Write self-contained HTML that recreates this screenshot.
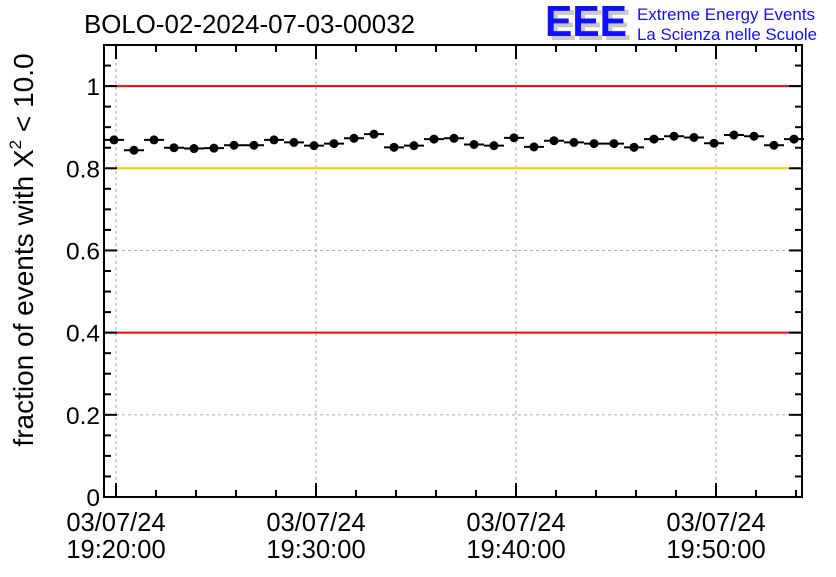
<!DOCTYPE html>
<html><head><meta charset="utf-8"><style>
body{margin:0;background:#fff;}
svg text{font-family:"Liberation Sans",sans-serif;}
</style></head><body>
<svg id="c" width="836" height="572" xmlns="http://www.w3.org/2000/svg">
<rect width="836" height="572" fill="#fff"/>
<text x="84" y="33" font-size="25.5" textLength="331" lengthAdjust="spacingAndGlyphs">BOLO-02-2024-07-03-00032</text>
<g>
<text x="549" y="40" font-size="44" font-weight="bold" fill="#c8c8c8" textLength="82" lengthAdjust="spacingAndGlyphs">EEE</text>
<text x="545" y="36" font-size="44" font-weight="bold" fill="#1010ff" textLength="82" lengthAdjust="spacingAndGlyphs">EEE</text>
<text x="637" y="20" font-size="17" fill="#1010ff" textLength="178" lengthAdjust="spacingAndGlyphs">Extreme Energy Events</text>
<text x="637" y="40" font-size="17" fill="#1010ff" textLength="180" lengthAdjust="spacingAndGlyphs">La Scienza nelle Scuole</text>
</g>
<g id="plot"></g>
<text transform="translate(33,250) rotate(-90)" text-anchor="middle" font-size="28">fraction of events with X<tspan dy="-12" font-size="17">2</tspan><tspan dy="12"> &lt; 10.0</tspan></text>
</svg>
<script>
const timesMin=[-0.1,0.9,1.9,2.9,3.9,4.9,5.9,6.9,7.9,8.9,9.9,10.9,11.9,12.9,13.9,14.9,15.9,16.9,17.9,18.9,19.9,20.9,21.9,22.9,23.9,24.9,25.9,26.9,27.9,28.9,29.9,30.9,31.9,32.9,33.9];
const fractions=[0.869,0.844,0.869,0.850,0.848,0.849,0.856,0.856,0.869,0.863,0.855,0.860,0.873,0.883,0.851,0.855,0.871,0.873,0.858,0.855,0.874,0.852,0.867,0.863,0.860,0.860,0.851,0.871,0.878,0.875,0.861,0.881,0.878,0.856,0.871];
const yTicks=[0,0.2,0.4,0.6,0.8,1];
const yTickLabels=["0","0.2","0.4","0.6","0.8","1"];
const xTicksMin=[0,10,20,30];
const xDateLabels=["03/07/24","03/07/24","03/07/24","03/07/24"];
const xTimeLabels=["19:20:00","19:30:00","19:40:00","19:50:00"];
const refLines=[{v:1,c:"#ff0000"},{v:0.8,c:"#ffcc00"},{v:0.4,c:"#ff0000"}];
const L=104,R=802,T=45,B=497;
const xMin=-0.6,xMax=34.3,yMin=0,yMax=1.1;
const X=m=>L+(m-xMin)/(xMax-xMin)*(R-L);
const Y=v=>B-(v-yMin)/(yMax-yMin)*(B-T);
const g=document.getElementById('plot');
const NS="http://www.w3.org/2000/svg";
function mk(t,a){const e=document.createElementNS(NS,t);for(const k in a)e.setAttribute(k,a[k]);g.appendChild(e);return e;}
xTicksMin.forEach(m=>{const e=mk('line',{x1:X(m),x2:X(m),y1:T,y2:B,stroke:'#aaa','stroke-dasharray':'3,3'});

});
yTicks.forEach(v=>{const e=mk('line',{x1:L,x2:R,y1:Y(v),y2:Y(v),stroke:'#aaa','stroke-dasharray':'3,3'});

});
refLines.forEach(r=>{const e=mk('line',{x1:L,x2:R,y1:Y(r.v),y2:Y(r.v),stroke:r.c,'stroke-width':2});

});
const fr=mk('rect',{x:L,y:T,width:R-L,height:B-T,fill:'none',stroke:'#000','stroke-width':2});


for(let v=0;v<=1.1001;v+=0.05){const maj=Math.abs(v/0.2-Math.round(v/0.2))<1e-6;const len=maj?13:7;
mk('line',{x1:L,x2:L+len,y1:Y(v),y2:Y(v),stroke:'#000','stroke-width':2});
mk('line',{x1:R,x2:R-len,y1:Y(v),y2:Y(v),stroke:'#000','stroke-width':2});}
yTicks.forEach((v,i)=>{const t=mk('text',{x:L-4,y:Y(v)+9,'text-anchor':'end','font-size':24.5});t.textContent=yTickLabels[i];

});
for(let m=0;m<=34;m+=2){const maj=m%10==0;const len=maj?14:7;
mk('line',{x1:X(m),x2:X(m),y1:B,y2:B-len,stroke:'#000','stroke-width':2});
mk('line',{x1:X(m),x2:X(m),y1:T,y2:T+len,stroke:'#000','stroke-width':2});}
xTicksMin.forEach((m,i)=>{const t=mk('text',{x:X(m),y:531,'text-anchor':'middle','font-size':25.5});t.textContent=xDateLabels[i];


const t2=mk('text',{x:X(m),y:558,'text-anchor':'middle','font-size':25.5});t2.textContent=xTimeLabels[i];

});
timesMin.forEach((m,i)=>{const y=Y(fractions[i]);
const l=mk('line',{x1:X(m-0.5),x2:X(m+0.5),y1:y,y2:y,stroke:'#000','stroke-width':2});


const c=mk('circle',{cx:X(m),cy:y,r:4.5,fill:'#000'});

});
</script>
</body></html>
